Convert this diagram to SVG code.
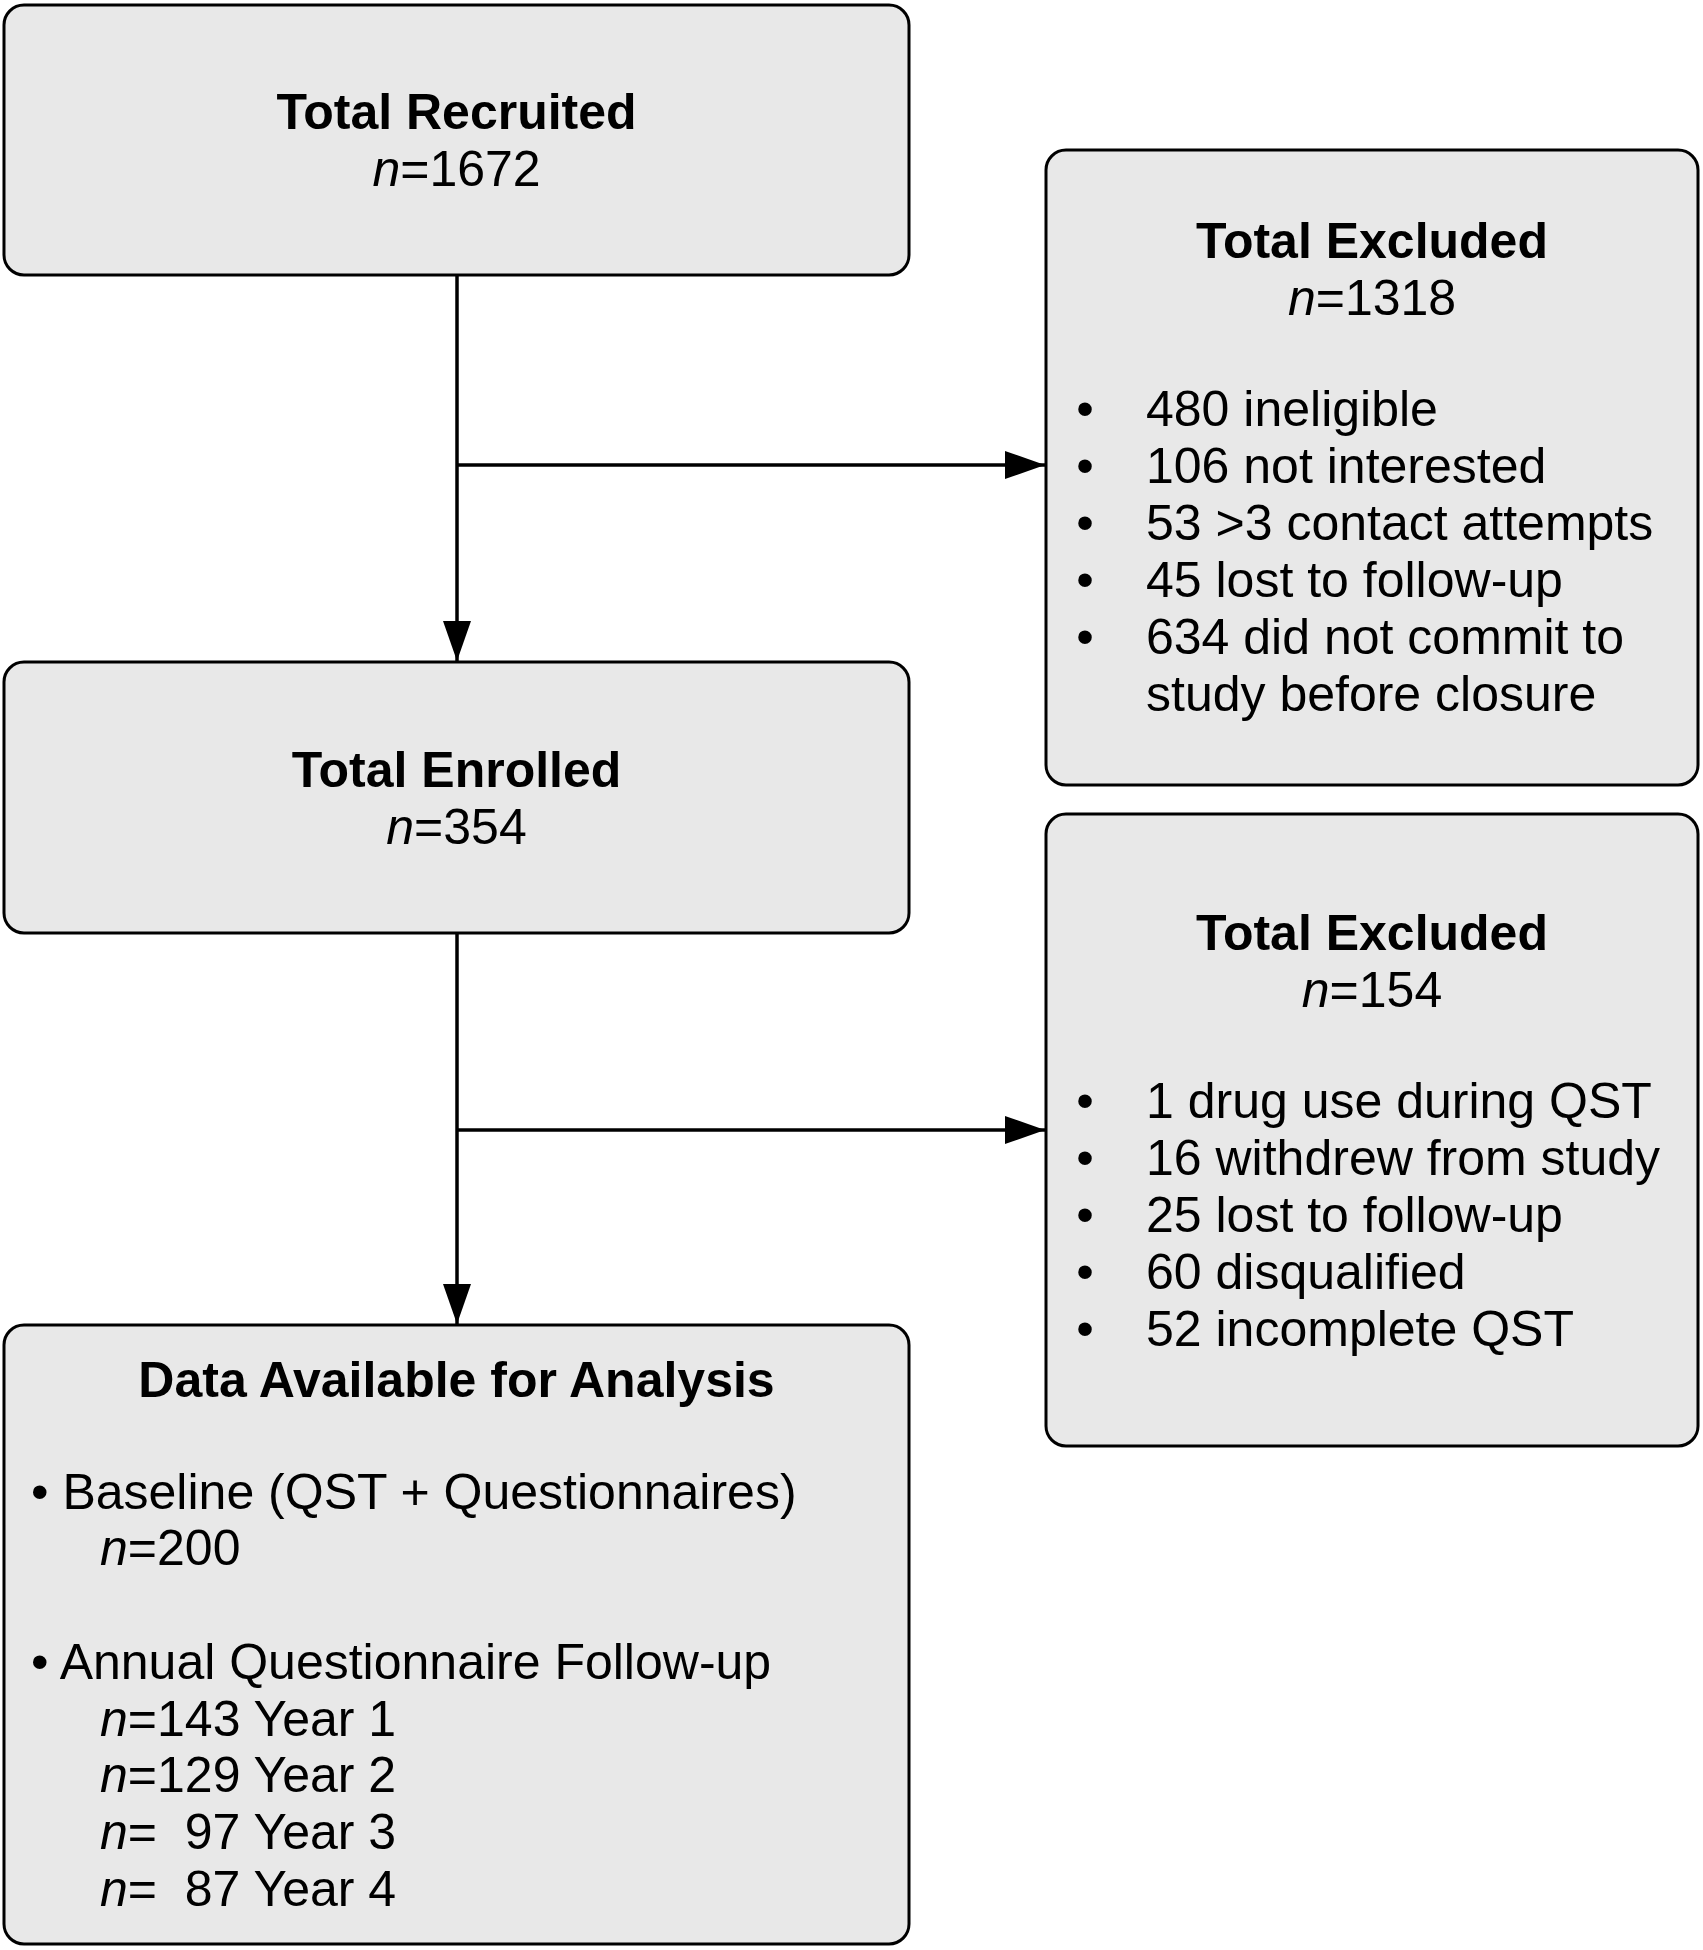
<svg xmlns="http://www.w3.org/2000/svg" width="1703" height="1950" viewBox="0 0 1703 1950">
<style>
.box{fill:#e8e8e8;stroke:#000;stroke-width:3}
text{font-family:"Liberation Sans",Arial,Helvetica,sans-serif;font-size:50px;fill:#000}
.t{font-weight:bold;text-anchor:middle}
.c{text-anchor:middle}
.b{text-anchor:middle}
i,.i{font-style:italic}
.ln{fill:none;stroke:#000;stroke-width:3.5}
</style>
<defs>
<marker id="ah" markerUnits="userSpaceOnUse" markerWidth="40" markerHeight="28" refX="40" refY="14" orient="auto">
<path d="M0,0 L40,14 L0,28 Z" fill="#000"/>
</marker>
</defs>
<rect width="1703" height="1950" fill="#fff"/>
<g id="connectors">
<path class="ln" d="M457,275 L457,661" marker-end="url(#ah)"/>
<path class="ln" d="M457,465 L1045,465" marker-end="url(#ah)"/>
<path class="ln" d="M457,933 L457,1324" marker-end="url(#ah)"/>
<path class="ln" d="M457,1130 L1045,1130" marker-end="url(#ah)"/>
</g>
<g id="recruited">
<rect class="box" x="4" y="5" width="905" height="270" rx="20"/>
<text class="t" x="456.5" y="129">Total Recruited</text>
<text class="c" x="456.5" y="186"><tspan class="i">n</tspan>=1672</text>
</g>
<g id="excluded1">
<rect class="box" x="1046" y="150" width="652" height="635" rx="20"/>
<text class="t" x="1372" y="258">Total Excluded</text>
<text class="c" x="1372" y="315"><tspan class="i">n</tspan>=1318</text>
<text class="b" x="1085" y="426">•</text>
<text class="b" x="1085" y="483">•</text>
<text class="b" x="1085" y="540">•</text>
<text class="b" x="1085" y="597">•</text>
<text class="b" x="1085" y="654">•</text>
<text x="1146" y="426">480 ineligible</text>
<text x="1146" y="483">106 not interested</text>
<text x="1146" y="540">53 &gt;3 contact attempts</text>
<text x="1146" y="597">45 lost to follow-up</text>
<text x="1146" y="654">634 did not commit to</text>
<text x="1146" y="711">study before closure</text>
</g>
<g id="enrolled">
<rect class="box" x="4" y="662" width="905" height="271" rx="20"/>
<text class="t" x="456.5" y="787">Total Enrolled</text>
<text class="c" x="456.5" y="844"><tspan class="i">n</tspan>=354</text>
</g>
<g id="excluded2">
<rect class="box" x="1046" y="814" width="652" height="632" rx="20"/>
<text class="t" x="1372" y="950">Total Excluded</text>
<text class="c" x="1372" y="1007"><tspan class="i">n</tspan>=154</text>
<text class="b" x="1085" y="1118">•</text>
<text class="b" x="1085" y="1175">•</text>
<text class="b" x="1085" y="1232">•</text>
<text class="b" x="1085" y="1289">•</text>
<text class="b" x="1085" y="1346">•</text>
<text x="1146" y="1118">1 drug use during QST</text>
<text x="1146" y="1175">16 withdrew from study</text>
<text x="1146" y="1232">25 lost to follow-up</text>
<text x="1146" y="1289">60 disqualified</text>
<text x="1146" y="1346">52 incomplete QST</text>
</g>
<g id="analysis">
<rect class="box" x="4" y="1325" width="905" height="619" rx="20"/>
<text class="t" x="456.5" y="1397">Data Available for Analysis</text>
<text x="31" y="1509">• Baseline (QST + Questionnaires)</text>
<text x="100" y="1565"><tspan class="i">n</tspan>=200</text>
<text x="31" y="1679">• Annual Questionnaire Follow-up</text>
<text x="100" y="1736" xml:space="preserve"><tspan class="i">n</tspan>=143 Year 1</text>
<text x="100" y="1792" xml:space="preserve"><tspan class="i">n</tspan>=129 Year 2</text>
<text x="100" y="1849" xml:space="preserve"><tspan class="i">n</tspan>=  97 Year 3</text>
<text x="100" y="1906" xml:space="preserve"><tspan class="i">n</tspan>=  87 Year 4</text>
</g>
</svg>
